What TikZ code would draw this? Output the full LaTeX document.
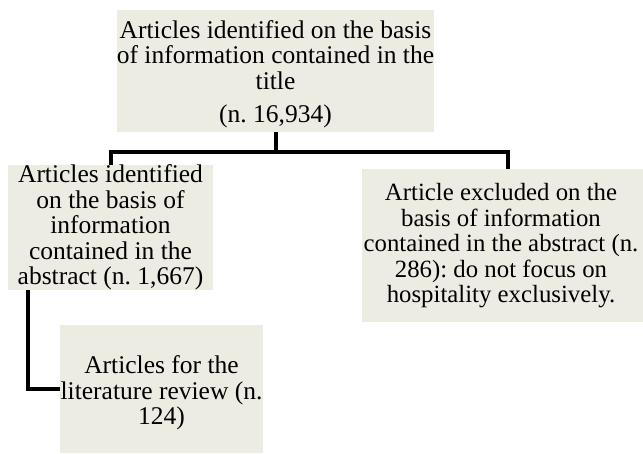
\documentclass[tikz,border=0pt]{standalone}
\usepackage{fontspec}
\setmainfont{Liberation Serif}
\usetikzlibrary{calc}
\definecolor{boxfill}{RGB}{236,236,226}
\tikzset{
  txt/.style={align=center, inner sep=0pt, font=\frenchspacing\fontsize{25.5}{25.5}\selectfont},
  box/.style={txt, fill=boxfill},
  conn/.style={line width=4pt, black}
}
\begin{document}
\begin{tikzpicture}[x=1pt,y=1pt]
\useasboundingbox (0,0) rectangle (643,-454);
\node[box, minimum width=317pt, minimum height=122pt] (T) at (275.5,-71) {};
\node[txt] (Tt) at (275.5,-55) {Articles identified on the basis\\of information contained in the\\title};
\node[txt] (Tn) at (275.5,-116) {(n. 16,934)};
\node[box, minimum width=205pt, minimum height=119pt] (L) at (110.5,-227.5) {Articles identified\\on the basis of\\information\\contained in the\\abstract (n. 1,667)};
\node[box, minimum width=281pt, minimum height=153pt] (R) at (502.5,-245.5) {};
\node[txt, font=\frenchspacing\fontsize{24.8}{25.5}\selectfont] (Rt) at (501,-246) {Article excluded on the\\basis of information\\contained in the abstract (n.\\286): do not focus on\\hospitality exclusively.};
\node[box, minimum width=203pt, minimum height=128pt] (B) at (161.5,-389) {};
\node[txt] (Bt) at (161.5,-393) {Articles for the\\literature review (n.\\124)};
\coordinate (j) at ($(T.south)+(0,-20)$);
\coordinate (rt) at ($(R.north)+(5.5,0)$);
\coordinate (lb) at ($(L.south west)+(20,0)$);
\draw[conn] (T.south) -- (j);
\draw[conn] (L.north) |- (j) -| (rt);
\draw[conn] (lb) |- (B.west);
\end{tikzpicture}
\end{document}
